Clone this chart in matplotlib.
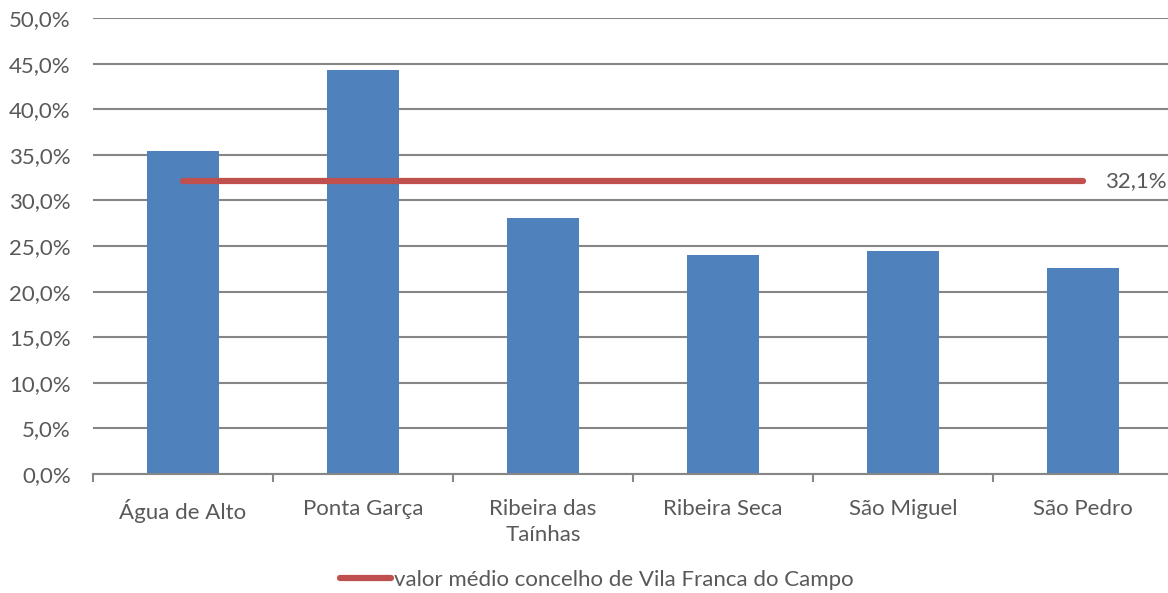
import numpy as np
import matplotlib.pyplot as plt

# data
categories = ["Água de Alto", "Ponta Garça", "Ribeira das\nTaínhas",
              "Ribeira Seca", "São Miguel", "São Pedro"]
values = [35.4, 44.3, 28.1, 24.0, 24.5, 22.6]
average = 32.1
average_label = "valor médio concelho de Vila Franca do Campo"

plt.rcParams['font.family'] = ['Lato', 'DejaVu Sans']
grey = '#595959'
fs = 16

fig = plt.figure(figsize=(11.68, 5.93), dpi=100)
ax = fig.add_axes([93 / 1168, 119 / 593, 1080 / 1168, 456 / 593])

x = np.arange(len(categories))
ax.bar(x, values, width=0.4, color='#4F81BD', zorder=2)
avg_line, = ax.plot([x[0], x[-1]], [average] * 2, color='#C0504D', lw=4.5,
                    solid_capstyle='round', zorder=3)
ax.annotate(f"{average:.1f}%".replace('.', ','), (x[-1], average),
            xytext=(16, 0), textcoords='offset points', va='center',
            fontsize=fs, color=grey)

ax.set_xlim(-0.5, len(categories) - 0.5)
ax.set_ylim(0, 50)
yt = np.arange(0, 50.1, 5)
ax.set_yticks(yt)
ax.set_yticklabels([f"{v:.1f}%".replace('.', ',') for v in yt], fontsize=fs, color=grey)
ax.tick_params(axis='y', length=0, pad=16)
ax.grid(axis='y', color='#868686', lw=1.5, zorder=1)

# ticks on the category boundaries, labels in the middle
ax.set_xticks(np.arange(-0.5, len(categories), 1))
ax.set_xticklabels([])
ax.tick_params(axis='x', which='major', length=6, width=1.5, color='#868686')
ax.set_xticks(x, minor=True)
ax.set_xticklabels(categories, minor=True, fontsize=fs, color=grey, linespacing=1.35)
ax.tick_params(axis='x', which='minor', length=0, pad=18)

for s in ['top', 'right', 'left']:
    ax.spines[s].set_visible(False)
ax.spines['bottom'].set_color('#868686')
ax.spines['bottom'].set_linewidth(1.5)

fig.legend([avg_line], [average_label], loc='center', bbox_to_anchor=(0.511, 0.022),
           frameon=False, fontsize=fs, labelcolor=grey, handlelength=2.3,
           handletextpad=0.1)

fig.savefig('out.png', dpi=100)
